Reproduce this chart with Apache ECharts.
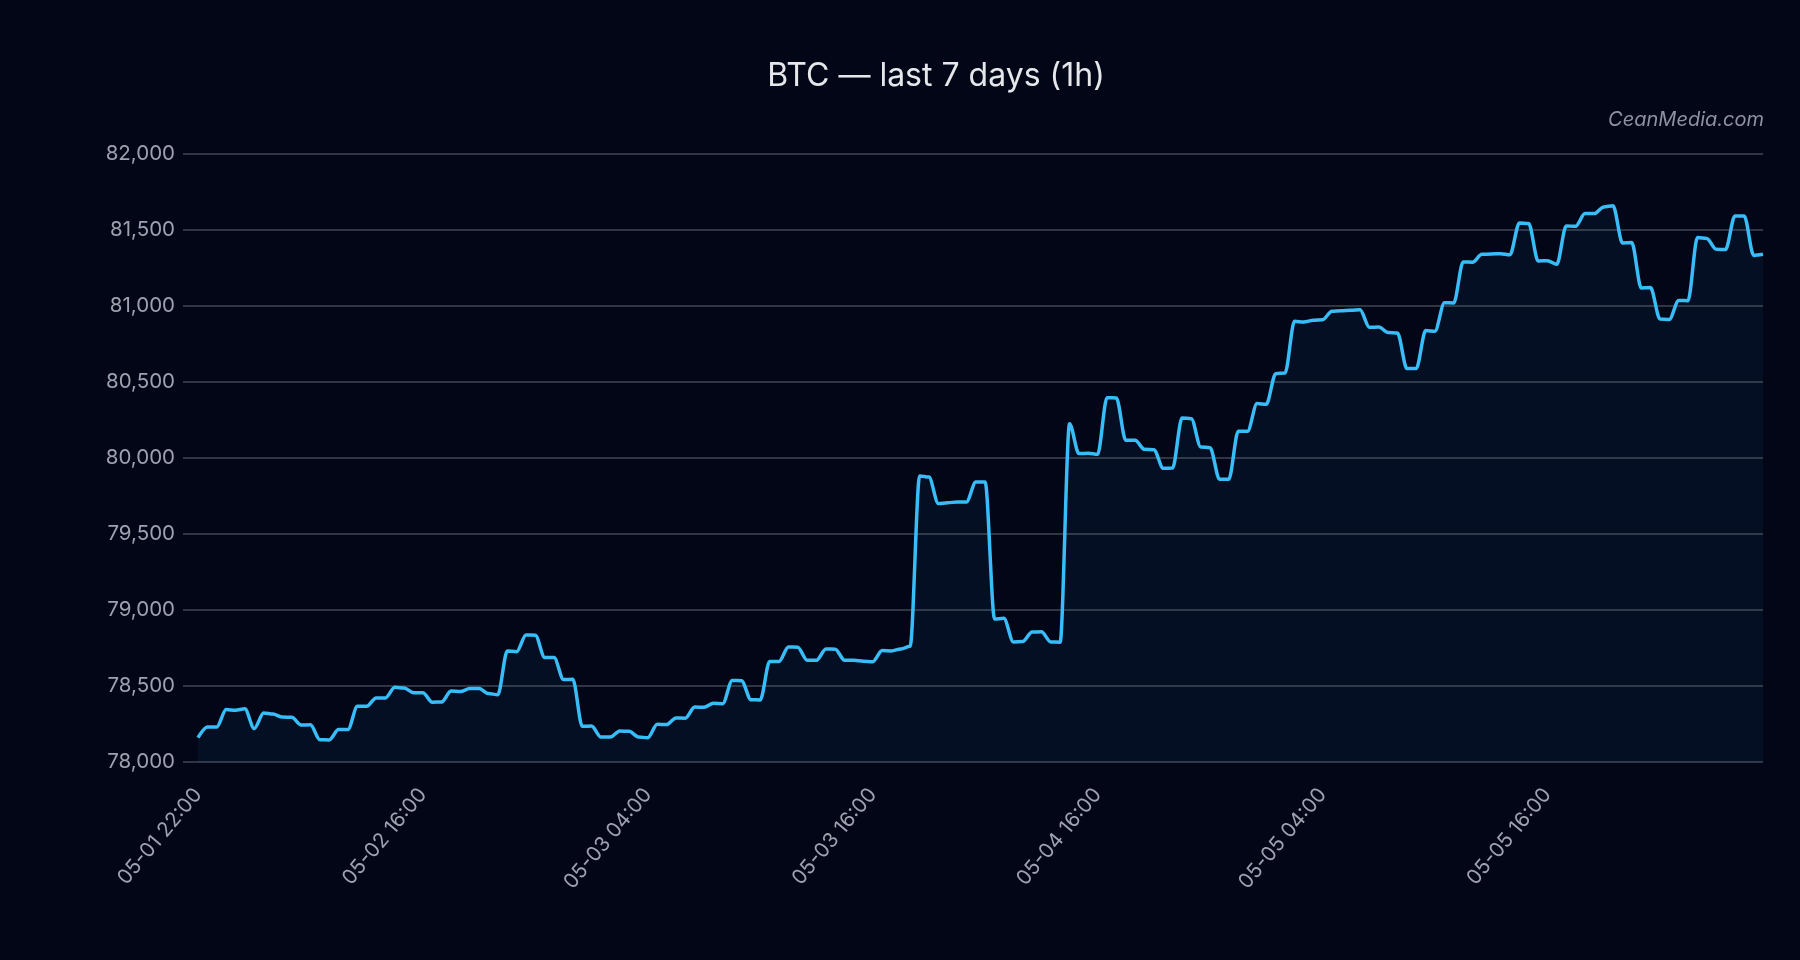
<!DOCTYPE html>
<html>
<head>
    <title>BTC 7d</title>
    <meta http-equiv="content-type" content="text/html; charset=utf-8">
    <script src="https://cdn.jsdelivr.net/npm/echarts@6/dist/echarts.min.js"></script>
    <style type="text/css">
    html, body {
        margin: 0;
        padding: 0;
        background: #020617;
    }
    #main {
        width: 1800px;
        height: 960px;
    }
    </style>
</head>
<body>
    <div id="main"></div>
    <script type="text/javascript">
    // tick labels shown under the x axis, one every 24 points
    var tickLabels = ['05-01 22:00', '05-02 16:00', '05-03 04:00', '05-03 16:00',
        '05-04 16:00', '05-05 04:00', '05-05 16:00'];

    // hourly closes
    var prices = [
        78160, 78230, 78230, 78345, 78340, 78350, 78220, 78322, 78315, 78296,
        78294, 78243, 78245, 78147, 78145, 78213, 78213, 78366, 78366, 78421,
        78421, 78491, 78487, 78456, 78456, 78393, 78395, 78467, 78464, 78483,
        78484, 78450, 78443, 78730, 78726, 78836, 78834, 78687, 78687, 78542,
        78545, 78235, 78237, 78164, 78164, 78204, 78202, 78164, 78160, 78248,
        78246, 78290, 78288, 78362, 78360, 78386, 78384, 78537, 78535, 78410,
        78408, 78662, 78662, 78757, 78755, 78669, 78669, 78744, 78742, 78669,
        78669, 78663, 78660, 78733, 78731, 78744, 78761, 79882, 79875, 79700,
        79705, 79711, 79711, 79842, 79842, 78941, 78945, 78790, 78792, 78855,
        78857, 78790, 78788, 80226, 80029, 80031, 80024, 80397, 80395, 80116,
        80116, 80057, 80055, 79932, 79934, 80263, 80259, 80072, 80068, 79860,
        79860, 80176, 80176, 80358, 80353, 80555, 80559, 80899, 80895, 80906,
        80910, 80965, 80968, 80972, 80975, 80860, 80862, 80825, 80822, 80588,
        80588, 80838, 80834, 81022, 81020, 81290, 81288, 81340, 81342, 81344,
        81337, 81546, 81542, 81296, 81298, 81274, 81527, 81524, 81608, 81608,
        81652, 81660, 81415, 81417, 81119, 81121, 80915, 80911, 81037, 81035,
        81450, 81444, 81373, 81371, 81592, 81592, 81333, 81340
    ];

    var yMin = 78000, yMax = 82000, yStep = 500;

    var hours = prices.map(function (p, i) { return i; });

    var font = 'Inter';
    var myChart = echarts.init(document.getElementById('main'));

    myChart.setOption({
        backgroundColor: '#020617',
        animation: false,
        title: {
            text: 'BTC \u2014 last 7 days (1h)',
            left: 931,
            top: 55,
            textAlign: 'center',
            textStyle: {
                color: '#e5e7eb',
                fontFamily: font,
                fontSize: 32,
                fontWeight: 'normal'
            }
        },
        graphic: [{
            type: 'text',
            right: 36,
            top: 110,
            style: {
                text: 'CeanMedia.com',
                fill: '#8b93a3',
                font: 'italic 20px Inter'
            }
        }],
        grid: {
            left: 198,
            right: 37,
            top: 154,
            bottom: 198
        },
        xAxis: {
            type: 'category',
            boundaryGap: false,
            data: hours,
            axisLine: { show: false },
            axisTick: { show: false },
            axisLabel: {
                interval: 23,
                rotate: 50,
                margin: 29,
                color: '#9ca3af',
                fontFamily: font,
                fontSize: 20.5,
                formatter: function (v, idx) {
                    return tickLabels[idx / 24] || '';
                }
            },
            splitLine: { show: false }
        },
        yAxis: {
            type: 'value',
            min: yMin,
            max: yMax,
            interval: yStep,
            axisLine: { show: false },
            axisTick: {
                show: true,
                length: 15,
                lineStyle: { color: '#2e3543', width: 2 }
            },
            axisLabel: {
                margin: 23,
                color: '#9ca3af',
                fontFamily: font,
                fontSize: 20.5,
                formatter: function (v) {
                    return v.toLocaleString('en-US');
                }
            },
            splitLine: {
                lineStyle: { color: '#2e3543', width: 2 }
            }
        },
        series: [{
            type: 'line',
            data: prices,
            smooth: 0.3,
            smoothMonotone: 'x',
            showSymbol: false,
            lineStyle: { color: '#38bdf8', width: 3.5 },
            itemStyle: { color: '#38bdf8' },
            areaStyle: { color: 'rgba(56,189,248,0.08)' }
        }]
    });
    </script>
</body>
</html>
